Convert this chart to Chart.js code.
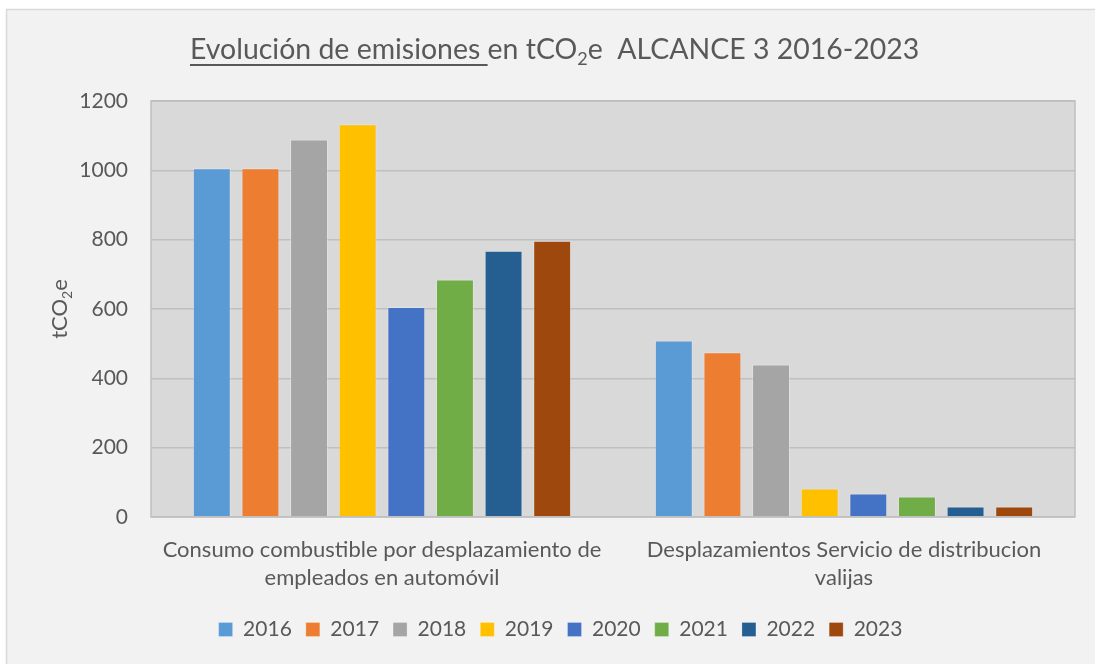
<!DOCTYPE html>
<html>
<head>
<meta charset="utf-8">
<script src="https://cdn.jsdelivr.net/npm/chart.js@4"></script>
<style>
  body { margin: 0; background: #ffffff; }
  canvas { display: block; }
</style>
</head>
<body>
<canvas id="myChart" width="1095" height="664"></canvas>
<script>
// data
const categories = [
  ['Consumo combustible por desplazamiento de', 'empleados en automóvil'],
  ['Desplazamientos Servicio de distribucion', 'valijas']
];
const years = ['2016', '2017', '2018', '2019', '2020', '2021', '2022', '2023'];
const consumoAutomovil = [1006, 1006, 1089, 1133, 606, 685, 768, 797];
const servicioValijas = [509, 475, 440, 82, 68, 59, 30, 30];
const yTicks = [0, 200, 400, 600, 800, 1000, 1200];
const yearColors = ['#5B9BD5', '#ED7D31', '#A5A5A5', '#FFC000', '#4472C4', '#70AD47', '#255E91', '#9E480E'];

const FONT = 'Lato';
const TXT = '#595959';

// draws runs of text, some of them subscript / underlined
function drawRuns(ctx, runs, x, y, size) {
  let cx = x;
  runs.forEach(r => {
    const s = r.sub ? Math.round(size * 0.62) : size;
    ctx.font = s + 'px ' + FONT;
    const w = ctx.measureText(r.t).width;
    const by = r.sub ? y + size * 0.22 : y;
    ctx.fillText(r.t, cx, by);
    if (r.u) {
      ctx.fillRect(cx, y + 5, w, 2);
    }
    cx += w;
  });
  return cx - x;
}

function runsWidth(ctx, runs, size) {
  let w = 0;
  runs.forEach(r => {
    ctx.font = (r.sub ? Math.round(size * 0.62) : size) + 'px ' + FONT;
    w += ctx.measureText(r.t).width;
  });
  return w;
}

const decor = {
  id: 'decor',
  afterLayout(chart) {
    // legend sits a bit right of the canvas centre in the reference
    chart.legend.left += 23;
    chart.legend.right += 23;
  },
  beforeDraw(chart) {
    const ctx = chart.ctx;
    const a = chart.chartArea;
    ctx.save();
    ctx.fillStyle = '#ffffff';
    ctx.fillRect(0, 0, chart.width, chart.height);
    ctx.fillStyle = '#f2f2f2';
    ctx.fillRect(7, 10, chart.width, chart.height);
    ctx.strokeStyle = '#d9d9d9';
    ctx.lineWidth = 1.5;
    ctx.beginPath();
    ctx.moveTo(6.5, chart.height);
    ctx.lineTo(6.5, 9.5);
    ctx.lineTo(chart.width, 9.5);
    ctx.stroke();
    ctx.fillStyle = '#d9d9d9';
    ctx.fillRect(a.left, a.top, a.right - a.left, a.bottom - a.top);
    ctx.restore();
  },
  afterDraw(chart) {
    const ctx = chart.ctx;
    const a = chart.chartArea;
    ctx.save();
    ctx.strokeStyle = '#bfbfbf';
    ctx.lineWidth = 1.5;
    ctx.strokeRect(a.left, a.top, a.right - a.left, a.bottom - a.top);

    ctx.fillStyle = TXT;
    ctx.textBaseline = 'alphabetic';
    ctx.textAlign = 'left';
    const title = [
      { t: 'Evolución de emisiones ', u: true },
      { t: 'en tCO' },
      { t: '2', sub: true },
      { t: 'e  ALCANCE 3 2016-2023' }
    ];
    // fit title between x=190 and x=919
    let size = 28;
    size = size * 729 / runsWidth(ctx, title, size);
    drawRuns(ctx, title, 190, 59, size);

    const yTitle = [{ t: 'tCO' }, { t: '2', sub: true }, { t: 'e' }];
    const ys = 22;
    const w = runsWidth(ctx, yTitle, ys);
    ctx.translate(67, (a.top + a.bottom) / 2);
    ctx.rotate(-Math.PI / 2);
    drawRuns(ctx, yTitle, -w / 2, 0, ys);
    ctx.restore();
  }
};

const datasets = years.map((y, i) => ({
  label: y,
  data: [consumoAutomovil[i], servicioValijas[i]],
  backgroundColor: yearColors[i],
  borderColor: 'rgba(255,255,255,0.25)',
  borderWidth: 1,
  categoryPercentage: 0.842,
  barPercentage: 0.78
}));

const ctxx = document.getElementById('myChart').getContext('2d');
const chart = new Chart(ctxx, {
  type: 'bar',
  data: { labels: categories, datasets: datasets },
  options: {
    responsive: false,
    animation: false,
    layout: { padding: { top: 101, right: 20, bottom: 14, left: 0 } },
    plugins: {
      title: { display: false },
      tooltip: { enabled: false },
      legend: {
        position: 'bottom',
        labels: {
          boxWidth: 14,
          boxHeight: 14,
          padding: 14,
          color: TXT,
          font: { family: FONT, size: 21 }
        }
      }
    },
    scales: {
      x: {
        grid: { display: false },
        border: { display: false },
        ticks: {
          color: TXT,
          font: { family: FONT, size: 22, lineHeight: 1.27 },
          maxRotation: 0,
          autoSkip: false,
          padding: 11
        },
        afterFit(scale) { scale.height = 88; }
      },
      y: {
        min: 0,
        max: 1200,
        afterBuildTicks(scale) { scale.ticks = yTicks.map(v => ({ value: v })); },
        grid: { color: '#bfbfbf', lineWidth: 1.5, drawTicks: false },
        border: { display: false },
        ticks: {
          color: TXT,
          font: { family: FONT, size: 21 },
          padding: 23,
          callback: v => String(v)
        },
        afterFit(scale) { scale.width = 151; }
      }
    }
  },
  plugins: [decor]
});
</script>
</body>
</html>
